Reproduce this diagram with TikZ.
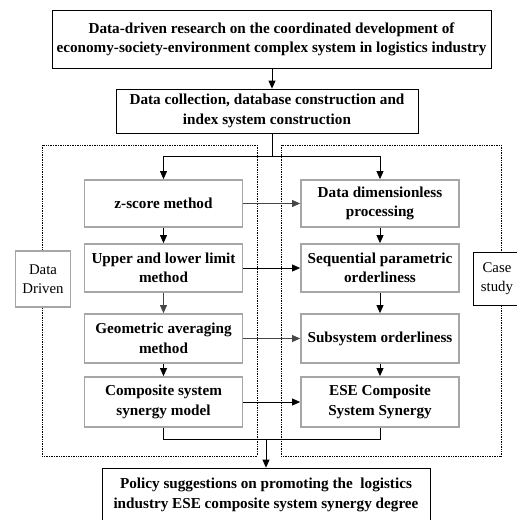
\documentclass[tikz,border=0pt]{standalone}
\usepackage{fontspec}
\setmainfont{Liberation Serif}
\usetikzlibrary{arrows.meta}
\begin{document}
\begin{tikzpicture}[x=1pt,y=-1pt,
  every node/.style={inner sep=0pt,align=center},
  mainbox/.style={draw=black,line width=0.8pt,fill=white,font=\fontsize{15.2}{19.5}\selectfont\bfseries},
  stepbox/.style={draw=gray!70,line width=1.8pt,fill=white,minimum width=158pt,
    font=\fontsize{15.2}{19.5}\selectfont\bfseries},
  sidebox/.style={fill=white,font=\fontsize{14.8}{19}\selectfont},
  arr/.style={line width=0.8pt,-{Triangle[length=8pt,width=7pt]}},
  arrg/.style={arr,draw=gray!55!black,-{Triangle[length=8pt,width=7pt,fill=gray!55!black]}},
  frame/.style={densely dotted,line width=0.7pt}]
\useasboundingbox (0,0) rectangle (517,520);
\clip (0,0) rectangle (517,520);
\fill[white] (0,0) rectangle (517,520);

% dashed frames for the two halves
\draw[frame] (42,145) rectangle (257,456);
\draw[frame] (281,145) rectangle (501,456);

% side labels
\node[sidebox,draw=gray!70,line width=1.8pt,minimum width=55pt,minimum height=56pt] (dd) at (43,279) {Data\\Driven};
\node[sidebox,draw=black,line width=0.8pt,minimum width=48pt,minimum height=53pt] (cs) at (497,278.5) {Case\\study};

% header boxes
\node[mainbox,minimum width=439pt,minimum height=58pt] (top) at (271.5,39.5)
  {Data-driven research on the coordinated development of\\economy-society-environment complex system in logistics industry};
\node[mainbox,minimum width=302pt,minimum height=44pt] (collect) at (267,111)
  {Data collection, database construction and\\index system construction};

% method column
\node[stepbox,minimum height=47pt] (L1) at (163.5,203.5) {z-score method};
\node[stepbox,minimum height=48pt] (L2) at (163.5,268) {Upper and lower limit\\method};
\node[stepbox,minimum height=49pt] (L3) at (163.5,338.5) {Geometric averaging\\method};
\node[stepbox,minimum height=50pt] (L4) at (163.5,402) {Composite system\\synergy model};

% result column
\node[stepbox,minimum height=47pt] (R1) at (380,203.5) {Data dimensionless\\processing};
\node[stepbox,minimum height=48pt] (R2) at (380,268) {Sequential parametric\\orderliness};
\node[stepbox,minimum height=49pt] (R3) at (380,338.5) {Subsystem orderliness};
\node[stepbox,minimum height=50pt] (R4) at (380,402) {ESE Composite\\System Synergy};

% closing box
\node[mainbox,minimum width=328pt,minimum height=54pt] (policy) at (266,495)
  {Policy suggestions on promoting the\ \ logistics\\industry ESE composite system synergy degree};

% top flow
\coordinate (split) at (272,156);
\draw[arr] (top.south -| split) -- (collect.north -| split);
\draw[line width=0.8pt] (collect.south -| split) -- (split);
\draw[line width=0.8pt] (split -| L1) -- (split -| R1);
\draw[arr] (split -| L1) -- (L1.north);
\draw[arr] (split -| R1) -- (R1.north);

% vertical flow
\draw[arr] (L1) -- (L2);
\draw[arrg] (L2) -- (L3);
\draw[arr] (L3) -- (L4);
\draw[arr] (R1) -- (R2);
\draw[arr] (R2) -- (R3);
\draw[arr] (R3) -- (R4);

% horizontal links
\draw[arrg] (L1) -- (R1);
\draw[arr] (L2) -- (R2);
\draw[arrg] (L3) -- (R3);
\draw[arr] (L4) -- (R4);

% merge into the policy box
\coordinate (merge) at (266,439);
\draw[line width=0.8pt] (L4.south) -- (L4.south |- merge) -- (R4.south |- merge) -- (R4.south);
\draw[arr] (merge) -- (policy.north);
\end{tikzpicture}
\end{document}
